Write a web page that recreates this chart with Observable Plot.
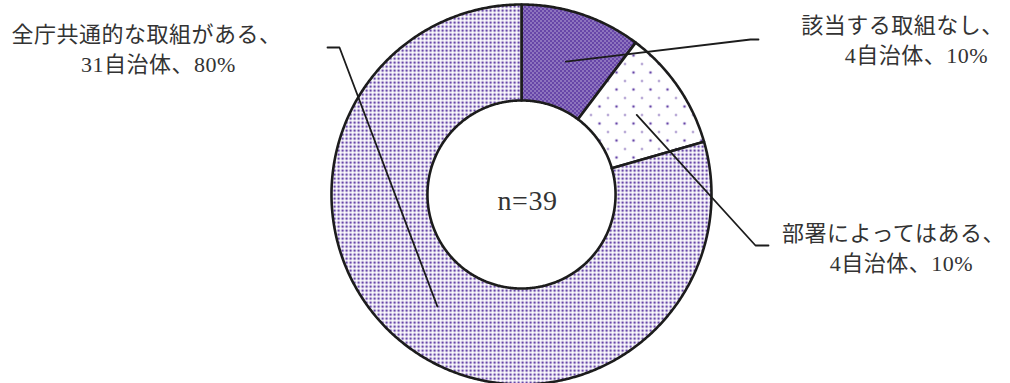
<!DOCTYPE html>
<html><head><meta charset="utf-8">
<script src="https://cdn.jsdelivr.net/npm/d3@7"></script>
<script src="https://cdn.jsdelivr.net/npm/@observablehq/plot@0.6"></script>
<style>
html,body{margin:0;padding:0;background:#fff;}
#chart svg{display:block;}
</style>
</head><body><div id="chart"></div>
<script>
// ---- data ----
const categories = ["該当する取組なし", "部署によってはある", "全庁共通的な取組がある"];
const counts = [4, 4, 31];
const percentLabels = ["10%", "10%", "80%"];
const unitLabel = "自治体";
const totalN = 39;
const centerLabel = "n=" + totalN;

// ---- layout / style (pixels) ----
const W = 1010, H = 383;
const CX = 521, CY = 194, R = 190;      // donut centre and outer radius (px)
const HOLE = 0.495;                     // inner radius ratio
const LEADER_R = 0.737;                 // leader start radius ratio
const patternIds = ["pat-cross", "pat-sparse", "pat-dense"];
const labelLayout = [
  {l1: [902, 25], l2: [916, 55], elbow: [750, 39], end: [758, 39]},
  {l1: [893, 233], l2: [901, 263], elbow: [755, 245], end: [768, 245]},
  {l1: [146, 34], l2: [158, 64], elbow: [339, 47], end: [327, 47]}
];
const PURPLE = "#6746a8";

const px2x = p => (p - CX) / R;
const px2y = p => (CY - p) / R;

// slice polygons from data
const slices = [];
let acc = 0;
counts.forEach((c, i) => {
  const a0 = acc / totalN * 2 * Math.PI;
  acc += c;
  const a1 = acc / totalN * 2 * Math.PI;
  const n = Math.max(12, Math.ceil((a1 - a0) / (2 * Math.PI) * 720));
  const pts = [];
  for (let k = 0; k <= n; k++) {
    const a = a0 + (a1 - a0) * k / n;
    pts.push({x: Math.sin(a), y: Math.cos(a)});
  }
  for (let k = n; k >= 0; k--) {
    const a = a0 + (a1 - a0) * k / n;
    pts.push({x: HOLE * Math.sin(a), y: HOLE * Math.cos(a)});
  }
  pts.push(pts[0]);
  slices.push({i, a0, a1, mid: (a0 + a1) / 2, pts});
});

// leaders
const leaders = slices.map(s => {
  const L = labelLayout[s.i];
  return [
    {x: LEADER_R * Math.sin(s.mid), y: LEADER_R * Math.cos(s.mid)},
    {x: px2x(L.elbow[0]), y: px2y(L.elbow[1])},
    {x: px2x(L.end[0]), y: px2y(L.end[1])}
  ];
});

const texts = [];
categories.forEach((cat, i) => {
  const L = labelLayout[i];
  texts.push({x: px2x(L.l1[0]), y: px2y(L.l1[1]), t: cat + "、"});
  texts.push({x: px2x(L.l2[0]), y: px2y(L.l2[1]), t: counts[i] + unitLabel + "、" + percentLabels[i]});
});

const FONT = "'Liberation Serif', 'Noto Sans CJK JP', serif";

const marks = [];
slices.forEach(s => {
  marks.push(Plot.line(s.pts, {x: "x", y: "y", curve: "linear",
    fill: `url(#${patternIds[s.i]})`, stroke: "#1c1c1c", strokeWidth: 2.6,
    strokeLinejoin: "round"}));
});
leaders.forEach(l => {
  marks.push(Plot.line(l, {x: "x", y: "y", curve: "linear", stroke: "#1c1c1c", strokeWidth: 1.8}));
});
marks.push(Plot.text(texts, {x: "x", y: "y", text: "t", fontSize: 22, fill: "#333",
  fontFamily: FONT, textAnchor: "middle", lineAnchor: "middle"}));
marks.push(Plot.text([{x: px2x(527), y: px2y(201), t: centerLabel}], {x: "x", y: "y", text: "t",
  fontSize: 28, fill: "#333", fontFamily: FONT, textAnchor: "middle", lineAnchor: "middle"}));

const svg = Plot.plot({
  width: W, height: H,
  marginTop: 0, marginRight: 0, marginBottom: 0, marginLeft: 0,
  x: {domain: [px2x(0), px2x(W)], axis: null},
  y: {domain: [px2y(H), px2y(0)], axis: null},
  style: {background: "#fff", letterSpacing: "0.5px", overflow: "visible"},
  marks
});

// patterns
const defs = d3.select(svg).insert("defs", ":first-child");
// dark cross pattern
const p1 = defs.append("pattern").attr("id", "pat-cross").attr("patternUnits", "userSpaceOnUse")
  .attr("width", 4).attr("height", 4);
p1.append("rect").attr("width", 4).attr("height", 4).attr("fill", PURPLE);
p1.append("rect").attr("x", 0).attr("y", 0).attr("width", 1).attr("height", 1).attr("fill", "#fff");
p1.append("rect").attr("x", 2).attr("y", 2).attr("width", 1).attr("height", 1).attr("fill", "#fff");
// sparse dots
const p2 = defs.append("pattern").attr("id", "pat-sparse").attr("patternUnits", "userSpaceOnUse")
  .attr("width", 17).attr("height", 17);
p2.append("rect").attr("width", 17).attr("height", 17).attr("fill", "#fff");
p2.append("circle").attr("cx", 4).attr("cy", 4).attr("r", 1.3).attr("fill", PURPLE);
p2.append("circle").attr("cx", 12.5).attr("cy", 12.5).attr("r", 0.9).attr("fill", PURPLE);
// dense dots
const p3 = defs.append("pattern").attr("id", "pat-dense").attr("patternUnits", "userSpaceOnUse")
  .attr("width", 4).attr("height", 4);
p3.append("rect").attr("width", 4).attr("height", 4).attr("fill", "#fff");
p3.append("rect").attr("x", 1).attr("y", 1).attr("width", 2.3).attr("height", 2.3).attr("fill", PURPLE);

document.getElementById("chart").appendChild(svg);
</script>
</body></html>
